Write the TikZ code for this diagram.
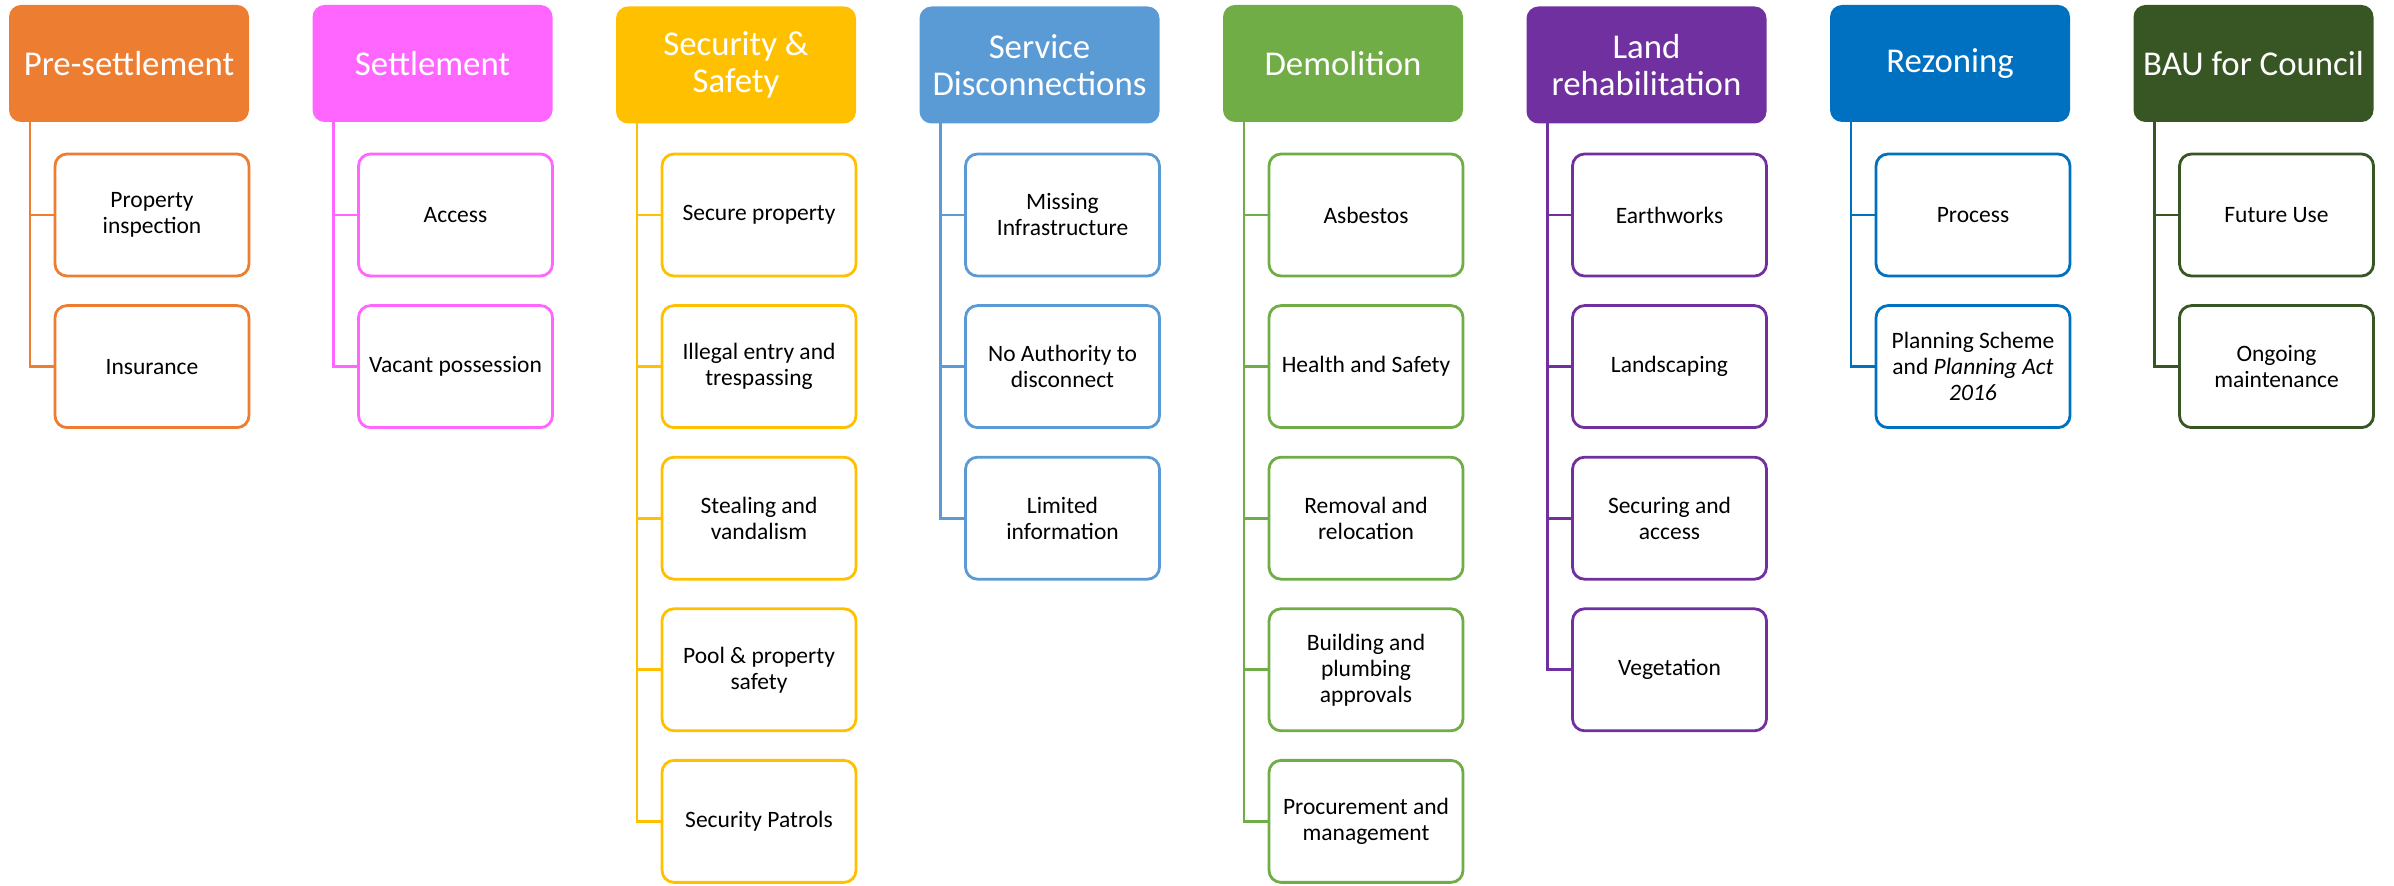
\documentclass[tikz,border=0pt]{standalone}
\usepackage{fontspec}
\setmainfont{Carlito}
\definecolor{cA}{HTML}{ED7D31}
\definecolor{cB}{HTML}{FF66FF}
\definecolor{cC}{HTML}{FFC000}
\definecolor{cD}{HTML}{5B9BD5}
\definecolor{cE}{HTML}{70AD47}
\definecolor{cF}{HTML}{7030A0}
\definecolor{cG}{HTML}{0070C0}
\definecolor{cH}{HTML}{375623}
\tikzset{
  hdr/.style={rectangle, rounded corners=6pt, fill=#1, minimum width=120pt, minimum height=58.5pt,
    text=white, align=center, font=\fontsize{17.4}{18.5}\selectfont, inner sep=0pt},
  kid/.style={rectangle, rounded corners=6pt, draw=#1, line width=1.4pt, fill=white,
    minimum width=97pt, minimum height=61pt, align=center,
    font=\fontsize{11.75}{13}\selectfont, inner sep=0pt},
  conn/.style={draw=#1, line width=1.4pt}
}
\begin{document}
\begin{tikzpicture}[x=0.5pt,y=-0.5pt]
\useasboundingbox (0,0) rectangle (2394,886);
% column 1
\node[hdr=cA] (h1) at (129,63.5) {Pre-settlement};
\coordinate (t1) at (30,122);
\node[kid=cA] (k1a) at (152,215) {Property\\inspection};
\node[kid=cA] (k1b) at (152,366.6) {Insurance};
\draw[conn=cA] (t1) |- (k1b.west);
\draw[conn=cA] (t1) |- (k1a.west);
% column 2
\node[hdr=cB] (h2) at (432.5,63.5) {Settlement};
\coordinate (t2) at (333.5,122);
\node[kid=cB] (k2a) at (455.5,215) {Access};
\node[kid=cB] (k2b) at (455.5,366.6) {Vacant possession};
\draw[conn=cB] (t2) |- (k2b.west);
\draw[conn=cB] (t2) |- (k2a.west);
% column 3
\node[hdr=cC] (h3) at (736,65) {Security \&\\Safety};
\coordinate (t3) at (637,122);
\node[kid=cC] (k3a) at (759,215) {Secure property};
\node[kid=cC] (k3b) at (759,366.6) {Illegal entry and\\trespassing};
\node[kid=cC] (k3c) at (759,518.2) {Stealing and\\vandalism};
\node[kid=cC] (k3d) at (759,669.8) {Pool \& property\\safety};
\node[kid=cC] (k3e) at (759,821.4) {Security Patrols};
\draw[conn=cC] (t3) |- (k3e.west);
\foreach \k in {k3a,k3b,k3c,k3d} \draw[conn=cC] (t3) |- (\k.west);
% column 4
\node[hdr=cD] (h4) at (1039.5,65) {Service\\Disconnections};
\coordinate (t4) at (940.5,122);
\node[kid=cD] (k4a) at (1062.5,215) {Missing\\Infrastructure};
\node[kid=cD] (k4b) at (1062.5,366.6) {No Authority to\\disconnect};
\node[kid=cD] (k4c) at (1062.5,518.2) {Limited\\information};
\draw[conn=cD] (t4) |- (k4c.west);
\foreach \k in {k4a,k4b} \draw[conn=cD] (t4) |- (\k.west);
% column 5
\node[hdr=cE] (h5) at (1343,63.5) {Demolition};
\coordinate (t5) at (1244,122);
\node[kid=cE] (k5a) at (1366,215) {Asbestos};
\node[kid=cE] (k5b) at (1366,366.6) {Health and Safety};
\node[kid=cE] (k5c) at (1366,518.2) {Removal and\\relocation};
\node[kid=cE] (k5d) at (1366,669.8) {Building and\\plumbing\\approvals};
\node[kid=cE] (k5e) at (1366,821.4) {Procurement and\\management};
\draw[conn=cE] (t5) |- (k5e.west);
\foreach \k in {k5a,k5b,k5c,k5d} \draw[conn=cE] (t5) |- (\k.west);
% column 6
\node[hdr=cF] (h6) at (1646.5,65) {Land\\rehabilitation};
\coordinate (t6) at (1547.5,122);
\node[kid=cF] (k6a) at (1669.5,215) {Earthworks};
\node[kid=cF] (k6b) at (1669.5,366.6) {Landscaping};
\node[kid=cF] (k6c) at (1669.5,518.2) {Securing and\\access};
\node[kid=cF] (k6d) at (1669.5,669.8) {Vegetation};
\draw[conn=cF] (t6) |- (k6d.west);
\foreach \k in {k6a,k6b,k6c} \draw[conn=cF] (t6) |- (\k.west);
% column 7
\node[hdr=cG] (h7) at (1950,63.5) {Rezoning};
\coordinate (t7) at (1851,122);
\node[kid=cG] (k7a) at (1973,215) {Process};
\node[kid=cG] (k7b) at (1973,366.6) {Planning Scheme\\and \textit{Planning Act}\\\textit{2016}};
\draw[conn=cG] (t7) |- (k7b.west);
\draw[conn=cG] (t7) |- (k7a.west);
% column 8
\node[hdr=cH] (h8) at (2253.5,63.5) {BAU for Council};
\coordinate (t8) at (2154.5,122);
\node[kid=cH] (k8a) at (2276.5,215) {Future Use};
\node[kid=cH] (k8b) at (2276.5,366.6) {Ongoing\\maintenance};
\draw[conn=cH] (t8) |- (k8b.west);
\draw[conn=cH] (t8) |- (k8a.west);
\end{tikzpicture}
\end{document}
